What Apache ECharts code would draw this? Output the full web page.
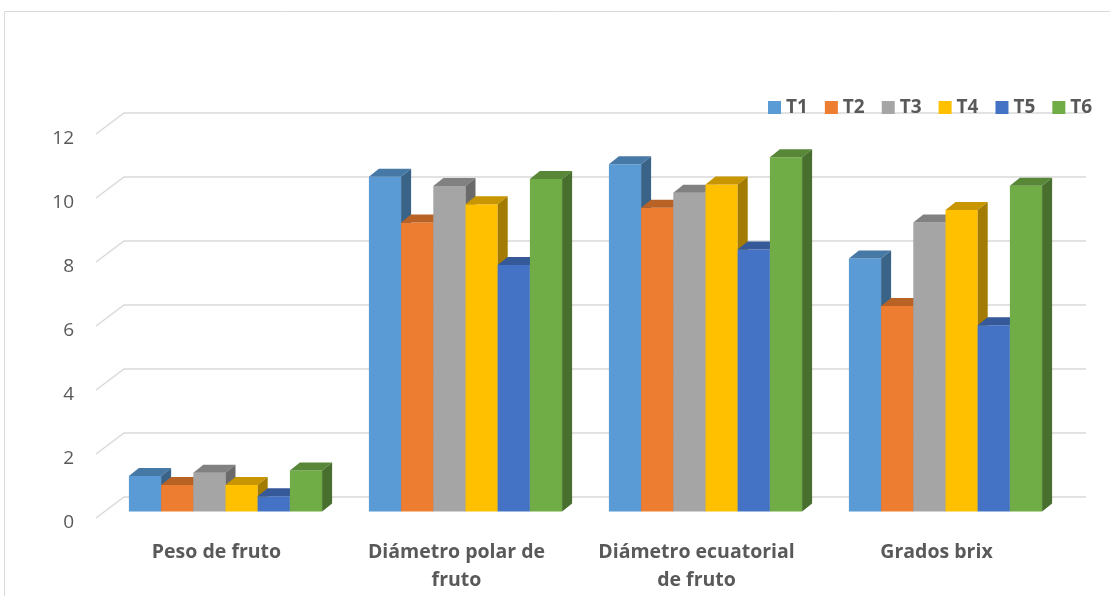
<!DOCTYPE html>
<html><head><meta charset="utf-8">
<script src="https://cdn.jsdelivr.net/npm/echarts@6/dist/echarts.min.js"></script>
<style>html,body{margin:0;padding:0;background:#fff}#c{width:1110px;height:596px}</style>
</head><body><div id="c"></div>
<script>
// ---- data ----
const categories = ['Peso de fruto', 'Diámetro polar de\nfruto', 'Diámetro ecuatorial\nde fruto', 'Grados brix'];
const seriesNames = ['T1', 'T2', 'T3', 'T4', 'T5', 'T6'];
const T1 = [1.11, 10.46, 10.85, 7.91];
const T2 = [0.83, 9.03, 9.49, 6.42];
const T3 = [1.21, 10.17, 9.96, 9.03];
const T4 = [0.83, 9.60, 10.22, 9.42];
const T5 = [0.48, 7.70, 8.19, 5.82];
const T6 = [1.28, 10.39, 11.07, 10.18];
const seriesValues = [T1, T2, T3, T4, T5, T6];
const yTicks = [0, 2, 4, 6, 8, 10, 12];

// ---- style ----
const colors = ['#5B9BD5', '#ED7D31', '#A5A5A5', '#FFC000', '#4472C4', '#70AD47'];
const FONT = '"Open Sans", Lato, sans-serif';
const TEXT = '#595959';
const DX = 10, DY = 8, GROUP_FRAC = 0.805;

function shade(hex, f) {
  const n = parseInt(hex.slice(1), 16);
  const r = Math.round(((n >> 16) & 255) * f), g = Math.round(((n >> 8) & 255) * f), b = Math.round((n & 255) * f);
  return 'rgb(' + r + ',' + g + ',' + b + ')';
}

function barRenderer(idx) {
  const front = colors[idx], topC = shade(colors[idx], 0.78), sideC = shade(colors[idx], 0.64);
  return function (params, api) {
    const c = api.value(0), v = api.value(1);
    const top = api.coord([c, v]);
    const base = api.coord([c, 0]);
    const band = api.size([1, 0])[0];
    const bw = band * GROUP_FRAC / 6;
    const x0 = top[0] - 3 * bw + idx * bw, x1 = x0 + bw;
    const yT = top[1], yB = base[1];
    return {
      type: 'group', children: [
        { type: 'rect', shape: { x: x0, y: yT, width: bw, height: yB - yT }, style: { fill: front } },
        { type: 'polygon', shape: { points: [[x0, yT], [x0 + DX, yT - DY], [x1 + DX, yT - DY], [x1, yT]] }, style: { fill: topC } },
        { type: 'polygon', shape: { points: [[x1, yT], [x1 + DX, yT - DY], [x1 + DX, yB - DY], [x1, yB]] }, style: { fill: sideC } }
      ]
    };
  };
}

function gridRenderer(params, api) {
  const v = api.value(1);
  const y = api.coord([0, v])[1];
  const cs = params.coordSys;
  return {
    type: 'polyline',
    shape: { points: [[cs.x - 9.5, y + 6.5], [cs.x + 18.5, y - 14.5], [cs.x + cs.width + 20.5, y - 14.5]] },
    style: { stroke: '#D9D9D9', lineWidth: 1.5, fill: null }
  };
}

const series = [{
  type: 'custom', xAxisIndex: 0, yAxisIndex: 0, z: 1, silent: true,
  data: yTicks.map(v => [0, v]), encode: { x: 0, y: 1 }, renderItem: gridRenderer
}];
seriesNames.forEach((name, i) => {
  series.push({
    type: 'custom', name: name, xAxisIndex: 0, yAxisIndex: 0, z: 2 + i,
    itemStyle: { color: colors[i] },
    data: seriesValues[i].map((v, k) => [k, v]), encode: { x: 0, y: 1 },
    renderItem: barRenderer(i)
  });
});

const chart = echarts.init(document.getElementById('c'), null, { renderer: 'canvas' });
chart.setOption({
  animation: false,
  color: colors,
  graphic: [{ type: 'rect', shape: { x: 4.5, y: 11.5, width: 1200, height: 700 }, style: { fill: null, stroke: '#D9D9D9', lineWidth: 1 }, z: 0 }],
  legend: {
    data: seriesNames, left: 763, top: 93, icon: 'rect', itemWidth: 13, itemHeight: 13, itemGap: 17,
    textStyle: { color: TEXT, fontFamily: FONT, fontWeight: 'bold', fontSize: 19 }
  },
  grid: [
    { left: 105.5, right: 44.5, top: 127.5, bottom: 84.5 },
    { left: 96.5, right: 53.5, top: 134, bottom: 78 },
    { left: 96.5, right: 53.5, top: 139, bottom: 73 }
  ],
  xAxis: [
    { type: 'category', gridIndex: 0, data: categories, show: false },
    {
      type: 'category', gridIndex: 1, data: categories,
      axisLine: { show: false }, axisTick: { show: false }, splitLine: { show: false },
      axisLabel: { color: TEXT, fontFamily: FONT, fontWeight: 'bold', fontSize: 19.5, lineHeight: 28, margin: 20, interval: 0 }
    },
    { type: 'category', gridIndex: 2, data: categories, show: false }
  ],
  yAxis: [
    { type: 'value', gridIndex: 0, min: 0, max: 12, interval: 2, show: false },
    { type: 'value', gridIndex: 1, min: 0, max: 12, interval: 2, show: false },
    {
      type: 'value', gridIndex: 2, min: 0, max: 12, interval: 2,
      axisLine: { show: false }, axisTick: { show: false }, splitLine: { show: false },
      axisLabel: { color: TEXT, fontFamily: FONT, fontSize: 19, margin: 22.5 }
    }
  ],
  series: series
});
</script>
</body></html>
